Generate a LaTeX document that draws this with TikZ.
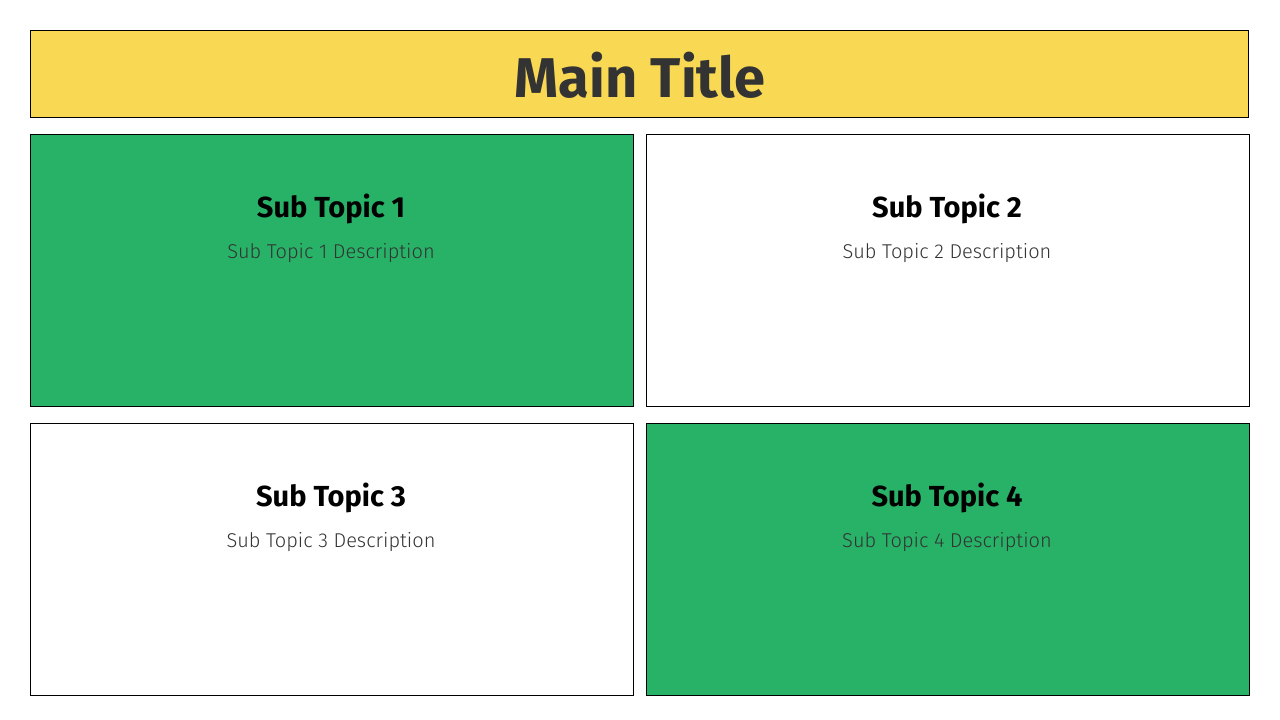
\documentclass[tikz,border=0pt]{standalone}
\usepackage{fontspec}
\setmainfont{Fira Sans}
\newfontfamily\lightfont{Fira Sans Light}
\usepackage{xcolor}
\usepackage{tikz}
\usetikzlibrary{positioning}
\definecolor{titlecolor}{RGB}{249,217,83}
\definecolor{topiccolor}{RGB}{39,178,103}
\definecolor{textcolor}{RGB}{51,51,51}

\begin{document}
\begin{tikzpicture}[
    x=1pt, y=-1pt,
    banner/.style={draw, line width=1pt, fill=titlecolor, anchor=north west, minimum width=1218pt, minimum height=87pt, inner sep=0pt},
    panel/.style={draw, line width=1pt, anchor=north west, minimum width=603pt, minimum height=272pt, inner sep=0pt},
    heading/.style={font=\fontsize{29}{34}\selectfont\bfseries, text=black},
    desc/.style={font=\fontsize{20}{24}\lightfont, text=textcolor}
]
    % Canvas
    \useasboundingbox (0,0) rectangle (1280,720);

    % Title bar
    \node[banner] (title) at (29.5,29.5) {};
    \node[font=\fontsize{56}{60}\selectfont\bfseries, text=textcolor] (titletext) at (640,75) {Main Title};

    % Panels
    \node[panel, fill=topiccolor] (topic1) at (29.5,133.5) {};
    \node[panel, fill=white] (topic2) at (645.5,133.5) {};
    \node[panel, fill=white] (topic3) at (29.5,422.5) {};
    \node[panel, fill=topiccolor] (topic4) at (645.5,422.5) {};

    % Panel texts
    \node[heading] (head1) at (331,209) {Sub Topic 1};
    \node[desc, below=12pt of head1] (desc1) {Sub Topic 1 Description};
    \node[heading] (head2) at (947,209) {Sub Topic 2};
    \node[desc, below=12pt of head2] (desc2) {Sub Topic 2 Description};
    \node[heading] (head3) at (331,498) {Sub Topic 3};
    \node[desc, below=12pt of head3] (desc3) {Sub Topic 3 Description};
    \node[heading] (head4) at (947,498) {Sub Topic 4};
    \node[desc, below=12pt of head4] (desc4) {Sub Topic 4 Description};
\end{tikzpicture}
\end{document}
